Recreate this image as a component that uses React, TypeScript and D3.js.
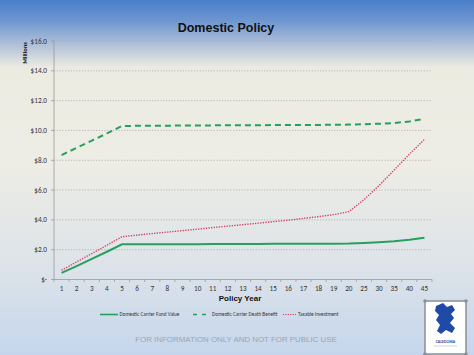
import React from "react";
import * as d3 from "d3";

const years = ["1","2","3","4","5","6","7","8","9","10","11","12","13","14","15","16","17","18","19","20","25","30","35","40","45"];
const fundValue = [0.44,0.9,1.38,1.86,2.36,2.36,2.37,2.37,2.37,2.37,2.38,2.38,2.38,2.38,2.39,2.39,2.39,2.4,2.4,2.41,2.45,2.5,2.56,2.66,2.8];
const deathBenefit = [8.35,8.83,9.32,9.8,10.3,10.31,10.32,10.32,10.33,10.33,10.34,10.34,10.35,10.35,10.36,10.36,10.37,10.37,10.38,10.39,10.42,10.45,10.5,10.6,10.77];
const taxable = [0.62,1.18,1.74,2.3,2.87,2.98,3.08,3.18,3.28,3.38,3.48,3.58,3.68,3.78,3.88,3.98,4.1,4.22,4.35,4.55,5.35,6.3,7.35,8.4,9.4];
const yTicks = [0,2,4,6,8,10,12,14,16];
const legendItems = ["Domestic Carrier Fund Value","Domestic Carrier Death Benefit","Taxable Investment"];

const W = 474, H = 355;
const GREEN = "#26a05c";
const RED = "#cf3f64";

export default function App() {
  const x = d3.scalePoint<string>().domain(years).range([54, 432]).padding(0.5);
  const y = d3.scaleLinear().domain([0, 16]).range([279.5, 41]);
  const line = (vals: number[]) =>
    d3.line<number>().x((_, i) => x(years[i]) as number).y((d) => y(d))(vals) as string;
  const fmt = (v: number) => (v === 0 ? "$-" : "$" + v.toFixed(1));
  const font = "Calibri, Carlito, 'Liberation Sans', Arial, sans-serif";

  return (
    <svg width={W} height={H} style={{ position: "absolute", left: 0, top: 0 }} fontFamily={font}>
      <defs>
        <linearGradient id="bg" x1="0" y1="0" x2="0" y2="1">
          <stop offset="0" stopColor="#4b7fca" />
          <stop offset="0.06" stopColor="#6f97d0" />
          <stop offset="0.13" stopColor="#b4c3d8" />
          <stop offset="0.19" stopColor="#ecebe2" />
          <stop offset="0.45" stopColor="#eeede5" />
          <stop offset="0.75" stopColor="#dde3e9" />
          <stop offset="1" stopColor="#c5d6ec" />
        </linearGradient>
      </defs>
      <rect x={0} y={0} width={W} height={H} fill="url(#bg)" />

      <text x={226} y={32} textAnchor="middle" fontSize={12.5} fontWeight="bold" fill="#111"
        fontFamily="'Liberation Sans', Arial, sans-serif">Domestic Policy</text>

      {yTicks.filter((t) => t > 0).map((t) => (
        <line key={t} x1={54} x2={432} y1={y(t)} y2={y(t)} stroke="#a9a9a9" strokeWidth={0.8} strokeDasharray="1.2,1.6" />
      ))}
      <line x1={54} x2={54} y1={41} y2={279.5} stroke="#9a9a9a" strokeWidth={0.8} />
      <line x1={54} x2={432} y1={279.5} y2={279.5} stroke="#9a9a9a" strokeWidth={0.8} />
      {yTicks.map((t) => (
        <g key={t}>
          <line x1={51} x2={54} y1={y(t)} y2={y(t)} stroke="#9a9a9a" strokeWidth={0.8} />
          <text x={47} y={y(t) + 2.5} textAnchor="end" fontSize={7.2} fill="#333">{fmt(t)}</text>
        </g>
      ))}
      {years.map((yr, i) => (
        <g key={yr}>
          <line x1={54 + i * x.step()} x2={54 + i * x.step()} y1={279.5} y2={282} stroke="#9a9a9a" strokeWidth={0.8} />
          <text x={x(yr)} y={291} textAnchor="middle" fontSize={7.2} fill="#333">{yr}</text>
        </g>
      ))}
      <line x1={432} x2={432} y1={279.5} y2={282} stroke="#9a9a9a" strokeWidth={0.8} />

      <text transform="translate(27,53) rotate(-90)" textAnchor="middle" fontSize={6.5} fontWeight="bold" fill="#111">Millions</text>
      <text x={240} y={301} textAnchor="middle" fontSize={8} fontWeight="bold" fill="#111"
        fontFamily="'Liberation Sans', Arial, sans-serif">Policy Year</text>

      <path d={line(fundValue)} fill="none" stroke={GREEN} strokeWidth={2} />
      <path d={line(deathBenefit)} fill="none" stroke={GREEN} strokeWidth={2} strokeDasharray="6,4" />
      <path d={line(taxable)} fill="none" stroke={RED} strokeWidth={1.4} strokeDasharray="1.3,1.3" />

      <g fontSize={5.2} fill="#333">
        <line x1={100} x2={118} y1={314.5} y2={314.5} stroke={GREEN} strokeWidth={1.6} />
        <text x={119.5} y={316.3}>{legendItems[0]}</text>
        <line x1={193} x2={210} y1={314.5} y2={314.5} stroke={GREEN} strokeWidth={1.6} strokeDasharray="4,5" />
        <text x={212} y={316.3}>{legendItems[1]}</text>
        <line x1={283} x2={296} y1={314.5} y2={314.5} stroke={RED} strokeWidth={1} strokeDasharray="1.2,1.2" />
        <text x={298} y={316.3}>{legendItems[2]}</text>
      </g>

      <text x={236} y={342} textAnchor="middle" fontSize={7.9} fill="#9aa6b6"
        fontFamily="'Liberation Sans', Arial, sans-serif">FOR INFORMATION ONLY AND NOT FOR PUBLIC USE</text>

      <g>
        <rect x={425} y={301} width={41} height={53} fill="#ffffff" stroke="#8a8f96" strokeWidth={1.5} />
        <circle cx={425} cy={301} r={1.8} fill="#8a8f96" />
        <circle cx={466} cy={301} r={1.8} fill="#8a8f96" />
        <circle cx={425} cy={354} r={1.8} fill="#8a8f96" />
        <circle cx={466} cy={354} r={1.8} fill="#8a8f96" />
        <path d="M436,306 L443,303 L447,307 L452,305 L455,310 L451,314 L454,318 L450,323 L455,328 L452,333 L446,330 L441,334 L437,331 L440,325 L436,320 L439,315 L435,311 Z"
          fill="#1f4aa8" />
        <text x={445.5} y={343} textAnchor="middle" fontSize={4} fill="#1f4aa8" fontWeight="bold">CALEDONIA</text>
        <line x1={434} x2={457} y1={346} y2={346} stroke="#9aa" strokeWidth={0.5} />
      </g>
    </svg>
  );
}
